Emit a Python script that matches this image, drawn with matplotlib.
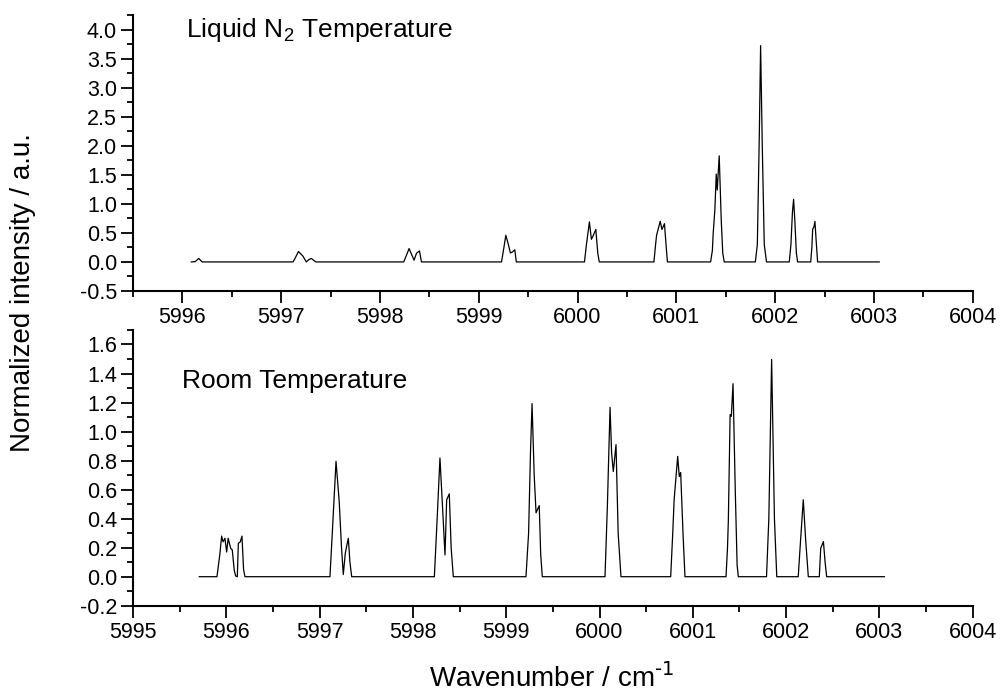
import numpy as np
import matplotlib
matplotlib.use("Agg")
import matplotlib.pyplot as plt
import matplotlib.ticker as ticker

plt.rcParams['font.family'] = ['Liberation Sans', 'DejaVu Sans']
plt.rcParams['mathtext.default'] = 'regular'
plt.rcParams['axes.unicode_minus'] = False

# spectrum at liquid N2 temperature (vertices)
wn_ln2 = [5996.09, 5996.13, 5996.165, 5996.20,
          5997.12, 5997.14, 5997.175, 5997.22, 5997.255, 5997.28, 5997.305, 5997.35,
          5998.24, 5998.26, 5998.295, 5998.345, 5998.37, 5998.40, 5998.42,
          5999.23, 5999.25, 5999.274, 5999.30, 5999.32, 5999.34, 5999.365, 5999.38,
          6000.07, 6000.09, 6000.12, 6000.14, 6000.16, 6000.185, 6000.205, 6000.22,
          6000.773, 6000.79, 6000.80, 6000.837, 6000.854, 6000.88, 6000.90, 6000.91,
          6001.347, 6001.365, 6001.373, 6001.39, 6001.404, 6001.414, 6001.434, 6001.455, 6001.47, 6001.485,
          6001.80, 6001.82, 6001.84, 6001.853, 6001.87, 6001.89, 6001.913,
          6002.143, 6002.16, 6002.175, 6002.187, 6002.20, 6002.215, 6002.228,
          6002.36, 6002.372, 6002.38, 6002.392, 6002.403, 6002.418, 6002.43,
          6003.054]
int_ln2 = [0.0, 0.005, 0.06, 0.0,
           0.0, 0.06, 0.18, 0.10, 0.0, 0.04, 0.06, 0.0,
           0.0, 0.08, 0.23, 0.03, 0.15, 0.19, 0.0,
           0.0, 0.2, 0.46, 0.3, 0.155, 0.17, 0.21, 0.0,
           0.0, 0.3, 0.69, 0.39, 0.46, 0.56, 0.15, 0.0,
           0.0, 0.3, 0.46, 0.70, 0.56, 0.66, 0.2, 0.0,
           0.0, 0.2, 0.49, 0.9, 1.515, 1.24, 1.83, 0.7, 0.15, 0.0,
           0.0, 0.3, 2.2, 3.73, 2.0, 0.3, 0.0,
           0.0, 0.3, 0.85, 1.08, 0.7, 0.15, 0.0,
           0.0, 0.25, 0.565, 0.6, 0.70, 0.3, 0.0,
           0.0]

# spectrum at room temperature
wn_rt = [5995.71, 5995.90, 5995.93, 5995.95, 5995.965, 5995.985, 5996.004, 5996.02, 5996.047,
         5996.064, 5996.085, 5996.10, 5996.118, 5996.129, 5996.15, 5996.168, 5996.185, 5996.20,
         5997.111, 5997.14, 5997.176, 5997.21, 5997.235, 5997.254, 5997.275, 5997.29, 5997.308,
         5997.325, 5997.344,
         5998.23, 5998.26, 5998.29, 5998.32, 5998.344, 5998.362, 5998.39, 5998.41, 5998.433,
         5999.212, 5999.24, 5999.26, 5999.277, 5999.30, 5999.32, 5999.337, 5999.354, 5999.37, 5999.387,
         6000.059, 6000.085, 6000.113, 6000.13, 6000.148, 6000.177, 6000.20, 6000.23,
         6000.763, 6000.785, 6000.80, 6000.838, 6000.855, 6000.87, 6000.895, 6000.916,
         6001.356, 6001.372, 6001.381, 6001.40, 6001.413, 6001.431, 6001.455, 6001.475, 6001.488,
         6001.79, 6001.815, 6001.845, 6001.875, 6001.90,
         6002.13, 6002.155, 6002.184, 6002.21, 6002.238,
         6002.356, 6002.371, 6002.40, 6002.418, 6002.435,
         6003.053]
int_rt = [0.0, 0.0, 0.15, 0.28, 0.24, 0.265, 0.17, 0.265, 0.195,
          0.185, 0.045, 0.005, 0.0, 0.23, 0.24, 0.28, 0.05, 0.0,
          0.0, 0.35, 0.795, 0.52, 0.2, 0.015, 0.16, 0.21, 0.265,
          0.1, 0.0,
          0.0, 0.4, 0.818, 0.45, 0.15, 0.53, 0.571, 0.2, 0.0,
          0.0, 0.3, 0.85, 1.193, 0.7, 0.44, 0.465, 0.49, 0.15, 0.0,
          0.0, 0.5, 1.167, 0.85, 0.725, 0.91, 0.3, 0.0,
          0.0, 0.3, 0.53, 0.829, 0.69, 0.718, 0.3, 0.0,
          0.0, 0.2, 0.39, 1.117, 1.105, 1.33, 0.6, 0.08, 0.0,
          0.0, 0.4, 1.497, 0.4, 0.0,
          0.0, 0.25, 0.53, 0.25, 0.0,
          0.0, 0.196, 0.242, 0.1, 0.0,
          0.0]

fig = plt.figure(figsize=(10, 6.96), dpi=100)
ax1 = fig.add_axes([0.133, 0.582, 0.8397, 0.3966])
ax2 = fig.add_axes([0.133, 0.1297, 0.8397, 0.3962])

ax1.plot(wn_ln2, int_ln2, color='black', lw=0.9)
ax2.plot(wn_rt, int_rt, color='black', lw=0.9)

ax1.set_xlim(5995.5, 6004)
ax1.set_ylim(-0.5, 4.26)
ax2.set_xlim(5995, 6004)
ax2.set_ylim(-0.2, 1.70)

ax1.yaxis.set_major_locator(ticker.MultipleLocator(0.5))
ax1.yaxis.set_minor_locator(ticker.MultipleLocator(0.25))
ax2.yaxis.set_major_locator(ticker.MultipleLocator(0.2))
ax2.yaxis.set_minor_locator(ticker.MultipleLocator(0.1))

for ax in (ax1, ax2):
    ax.xaxis.set_major_locator(ticker.MultipleLocator(1))
    ax.xaxis.set_minor_locator(ticker.MultipleLocator(0.5))
    ax.xaxis.set_major_formatter(ticker.FormatStrFormatter('%d'))
    ax.yaxis.set_major_formatter(ticker.FormatStrFormatter('%.1f'))
    ax.spines['top'].set_visible(False)
    ax.spines['right'].set_visible(False)
    ax.spines['left'].set_linewidth(1.5)
    ax.spines['bottom'].set_linewidth(1.5)
    ax.tick_params(which='major', direction='out', length=8.5, width=1.3, labelsize=15.5, pad=3)
    ax.tick_params(which='minor', direction='out', length=4.5, width=1.3)

fig.text(0.186, 0.957, 'Liquid N$_2$ Temperature', fontsize=19, va='center', ha='left')
fig.text(0.182, 0.4526, 'Room Temperature', fontsize=19, va='center', ha='left')

fig.text(0.023, 0.58, 'Normalized intensity / a.u.', fontsize=20, rotation=90, va='center', ha='center')
fig.text(0.552, 0.025, r'Wavenumber / cm$^{\text{-1}}$', fontsize=20, va='center', ha='center')

fig.savefig("out.png")
